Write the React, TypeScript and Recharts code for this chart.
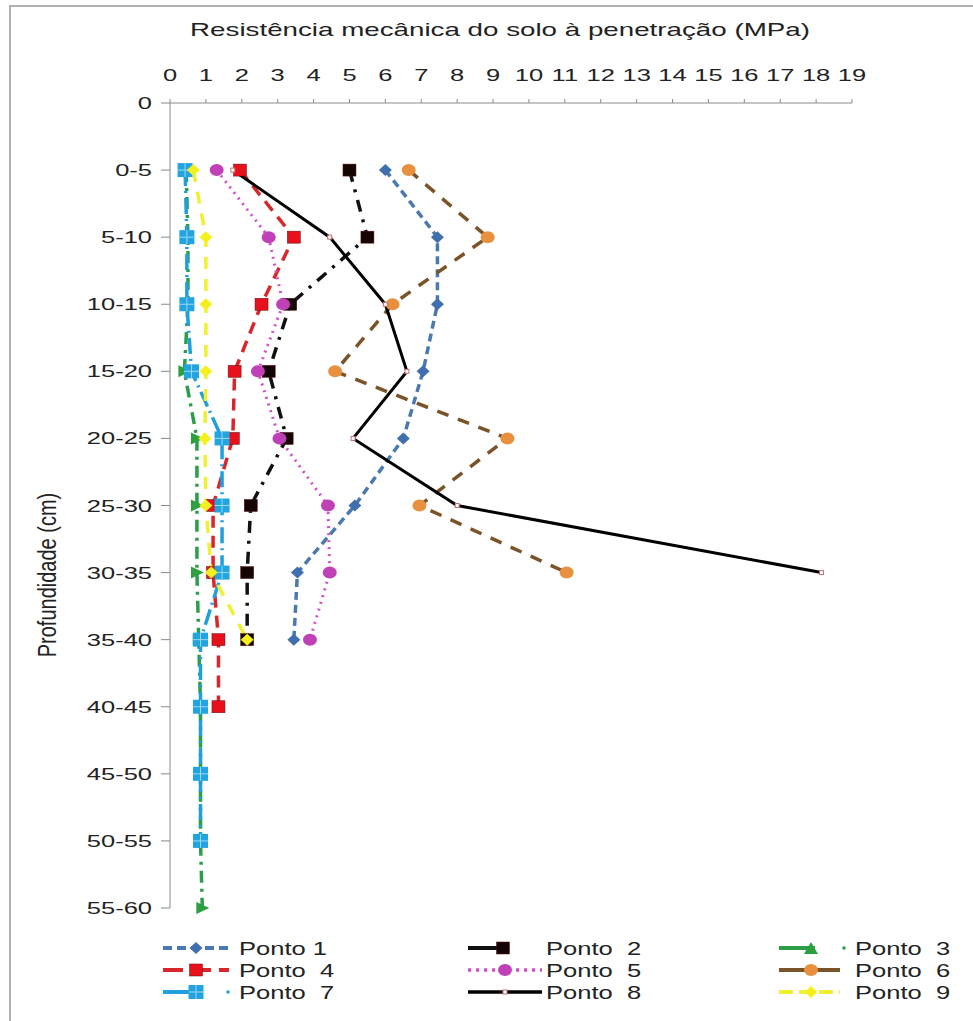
import { LineChart, Line, XAxis, YAxis } from 'recharts'

const profundidades = ['0', '0-5', '5-10', '10-15', '15-20', '20-25', '25-30', '30-35', '35-40', '40-45', '45-50', '50-55', '55-60']
const ticksMPa = [0, 1, 2, 3, 4, 5, 6, 7, 8, 9, 10, 11, 12, 13, 14, 15, 16, 17, 18, 19]

const ponto1 = [null, 6.0, 7.45, 7.45, 7.05, 6.5, 5.15, 3.55, 3.45, null, null, null, null]
const ponto2 = [null, 5.0, 5.5, 3.35, 2.75, 3.25, 2.25, 2.15, 2.15, null, null, null, null]
const ponto3 = [null, 0.45, 0.5, 0.5, 0.4, 0.75, 0.75, 0.75, 0.8, 0.85, 0.85, 0.85, 0.9]
const ponto4 = [null, 1.95, 3.45, 2.55, 1.8, 1.75, 1.2, 1.2, 1.35, 1.35, null, null, null]
const ponto5 = [null, 1.3, 2.75, 3.15, 2.45, 3.05, 4.4, 4.45, 3.9, null, null, null, null]
const ponto6 = [null, 6.65, 8.85, 6.2, 4.6, 9.4, 6.95, 11.05, null, null, null, null, null]
const ponto7 = [null, 0.42, 0.47, 0.47, 0.6, 1.45, 1.45, 1.45, 0.85, 0.85, 0.85, 0.85, null]
const ponto8 = [null, 1.75, 4.45, 6.0, 6.6, 5.1, 8.0, 18.15, null, null, null, null, null]
const ponto9 = [null, 0.65, 1.0, 1.0, 1.0, 0.97, 1.0, 1.15, 2.15, null, null, null, null]

const data = profundidades.map((p, i) => ({
  prof: p,
  p1: ponto1[i],
  p2: ponto2[i],
  p3: ponto3[i],
  p4: ponto4[i],
  p5: ponto5[i],
  p6: ponto6[i],
  p7: ponto7[i],
  p8: ponto8[i],
  p9: ponto9[i],
}))

const FONTE = 'Liberation Sans, Arial, sans-serif'
// a figura original está esticada na horizontal
const ESTICA = 1.5

type Marker = 'diamond' | 'square' | 'triangle' | 'triUp' | 'circle' | 'cross' | 'tiny'

const MarkerShape = ({ cx, cy, kind, fill }: { cx: number; cy: number; kind: Marker; fill: string }) => {
  if (kind === 'diamond') {
    return <path d={`M${cx - 6.5},${cy} L${cx},${cy - 6} L${cx + 6.5},${cy} L${cx},${cy + 6} Z`} fill={fill} />
  }
  if (kind === 'square') {
    return <rect x={cx - 6.5} y={cy - 6} width={13} height={12} fill={fill} stroke="#5a1010" strokeWidth={0.5} />
  }
  if (kind === 'triangle') {
    return <path d={`M${cx - 6},${cy - 6} L${cx + 7},${cy} L${cx - 6},${cy + 6} Z`} fill={fill} />
  }
  if (kind === 'triUp') {
    return <path d={`M${cx - 7},${cy + 6} L${cx},${cy - 6} L${cx + 7},${cy + 6} Z`} fill={fill} />
  }
  if (kind === 'circle') {
    return <ellipse cx={cx} cy={cy} rx={7} ry={6} fill={fill} />
  }
  if (kind === 'cross') {
    return (
      <g>
        <rect x={cx - 7.5} y={cy - 7} width={15} height={14} fill={fill} />
        <line x1={cx} y1={cy - 7} x2={cx} y2={cy + 7} stroke="#9ad8f2" strokeWidth={1} />
        <line x1={cx - 7.5} y1={cy} x2={cx + 7.5} y2={cy} stroke="#9ad8f2" strokeWidth={1} />
      </g>
    )
  }
  return <rect x={cx - 2} y={cy - 2} width={4} height={4} fill="#fff" stroke="#c07070" strokeWidth={1} />
}

const series = [
  { key: 'p1', name: 'Ponto 1', stroke: '#4a78b0', fill: '#3f6fae', dash: '8 5', width: 3.5, marker: 'diamond' as Marker },
  { key: 'p2', name: 'Ponto\u00a0 2', stroke: '#111', fill: '#140404', dash: '12 8 3 8', width: 3.5, marker: 'square' as Marker },
  { key: 'p3', name: 'Ponto\u00a0 3', stroke: '#2c9e4a', fill: '#2ca040', dash: '12 6 3 6', width: 3.5, marker: 'triangle' as Marker },
  { key: 'p4', name: 'Ponto\u00a0 4', stroke: '#d9262a', fill: '#e8101a', dash: '12 8', width: 3.5, marker: 'square' as Marker },
  { key: 'p5', name: 'Ponto\u00a0 5', stroke: '#d050c8', fill: '#c040b8', dash: '2 5', width: 3, marker: 'circle' as Marker },
  { key: 'p6', name: 'Ponto\u00a0 6', stroke: '#7a5328', fill: '#e8903e', dash: '12 10', width: 3.5, marker: 'circle' as Marker },
  { key: 'p7', name: 'Ponto\u00a0 7', stroke: '#1fa0dc', fill: '#22a4e0', dash: '16 5 2 5', width: 3.5, marker: 'cross' as Marker },
  { key: 'p8', name: 'Ponto\u00a0 8', stroke: '#000', fill: '#fff', dash: undefined, width: 3, marker: 'tiny' as Marker },
  { key: 'p9', name: 'Ponto\u00a0 9', stroke: '#f0f030', fill: '#f4f020', dash: '12 10', width: 3.5, marker: 'diamond' as Marker },
]

// amostras da legenda: linha, posição do marcador e ponto solto
const legendas = [
  { x0: 163, x1: 229, mx: 196, dash: '9 5', ponto: null, marker: 'diamond' as Marker, tx: 239 },
  { x0: 468, x1: 508, mx: 503, dash: undefined, ponto: null, marker: 'square' as Marker, tx: 546 },
  { x0: 779, x1: 815, mx: 811, dash: undefined, ponto: 844, marker: 'triUp' as Marker, tx: 855 },
  { x0: 163, x1: 229, mx: 196, dash: '20 8', ponto: null, marker: 'square' as Marker, tx: 239 },
  { x0: 468, x1: 542, mx: 505, dash: '3 5', ponto: null, marker: 'circle' as Marker, tx: 546 },
  { x0: 779, x1: 840, mx: 811, dash: undefined, ponto: null, marker: 'circle' as Marker, tx: 855 },
  { x0: 163, x1: 200, mx: 196, dash: undefined, ponto: 228, marker: 'cross' as Marker, tx: 239 },
  { x0: 468, x1: 542, mx: 505, dash: undefined, ponto: null, marker: 'tiny' as Marker, tx: 546 },
  { x0: 779, x1: 840, mx: 811, dash: '14 6', ponto: null, marker: 'diamond' as Marker, tx: 855 },
]
const legendRows = [12, 34, 56]

const LegendaPontos = () => (
  <svg width={973} height={70} style={{ display: 'block' }}>
    {series.map((s, i) => {
      const leg = legendas[i]
      const y = legendRows[Math.floor(i / 3)]
      return (
        <g key={s.key}>
          <line x1={leg.x0} y1={y} x2={leg.x1} y2={y} stroke={s.stroke} strokeWidth={s.width + 0.5} strokeDasharray={leg.dash} />
          {leg.ponto != null && <circle cx={leg.ponto} cy={y} r={1.8} fill={s.stroke} />}
          <MarkerShape cx={leg.mx} cy={y} kind={leg.marker} fill={s.fill} />
          <text x={0} y={0} transform={`translate(${leg.tx},${y + 7}) scale(1.42,1)`} fontSize={18} fill="#222" fontFamily={FONTE}>
            {s.name}
          </text>
        </g>
      )
    })}
  </svg>
)

const TickX = ({ x, y, payload }: any) => (
  <text x={0} y={0} transform={`translate(${x},${y - 1}) scale(${ESTICA},1)`} textAnchor="middle" fontSize={17} fill="#222" fontFamily={FONTE}>
    {payload.value}
  </text>
)

const TickY = ({ x, y, payload }: any) => (
  <text x={0} y={0} transform={`translate(${x},${y + 6}) scale(${ESTICA},1)`} textAnchor="end" fontSize={17} fill="#222" fontFamily={FONTE}>
    {payload.value}
  </text>
)

export default function App() {
  return (
    <div style={{ position: 'absolute', left: 0, top: 0, width: 973, height: 1021, background: '#fff', overflow: 'hidden', fontFamily: FONTE }}>
      <div style={{ position: 'absolute', left: 9, top: 5, width: 980, height: 1030, border: '2px solid #b0b0b0', boxSizing: 'border-box' }} />
      <div style={{ position: 'absolute', left: 500, top: 19, transform: `translateX(-50%) scaleX(1.46)`, fontSize: 19, color: '#222', whiteSpace: 'nowrap' }}>
        Resistência mecânica do solo à penetração (MPa)
      </div>
      <div style={{ position: 'absolute', left: 48, top: 575, transform: 'translate(-50%, -50%) rotate(-90deg) scaleY(1.3)', fontSize: 20, color: '#222', whiteSpace: 'nowrap' }}>
        Profundidade (cm)
      </div>
      <div style={{ position: 'absolute', left: 0, top: 0 }}>
        <LineChart width={973} height={1021} data={data} layout="vertical" margin={{ top: 73, right: 121, bottom: 113, left: 0 }}>
          <XAxis
            type="number"
            orientation="top"
            domain={[0, 19]}
            ticks={ticksMPa}
            interval={0}
            height={30}
            tickSize={4}
            tickMargin={17}
            stroke="#8a8a8a"
            tick={<TickX />}
            allowDataOverflow
          />
          <YAxis
            type="category"
            dataKey="prof"
            scale="point"
            width={170}
            interval={0}
            tickSize={9}
            tickMargin={9}
            stroke="#8a8a8a"
            tick={<TickY />}
          />
          {series.map((s) => (
            <Line
              key={s.key}
              dataKey={s.key}
              name={s.name}
              stroke={s.stroke}
              strokeWidth={s.width}
              strokeDasharray={s.dash}
              isAnimationActive={false}
              dot={(props: any) => {
                const { cx, cy, index, value } = props
                if (value == null || cx == null || cy == null) return <g key={`${s.key}-${index}`} />
                return (
                  <g key={`${s.key}-${index}`}>
                    <MarkerShape cx={cx} cy={cy} kind={s.marker} fill={s.fill} />
                  </g>
                )
              }}
              activeDot={false}
            />
          ))}
        </LineChart>
      </div>
      <div style={{ position: 'absolute', left: 0, top: 936 }}>
        <LegendaPontos />
      </div>
    </div>
  )
}
